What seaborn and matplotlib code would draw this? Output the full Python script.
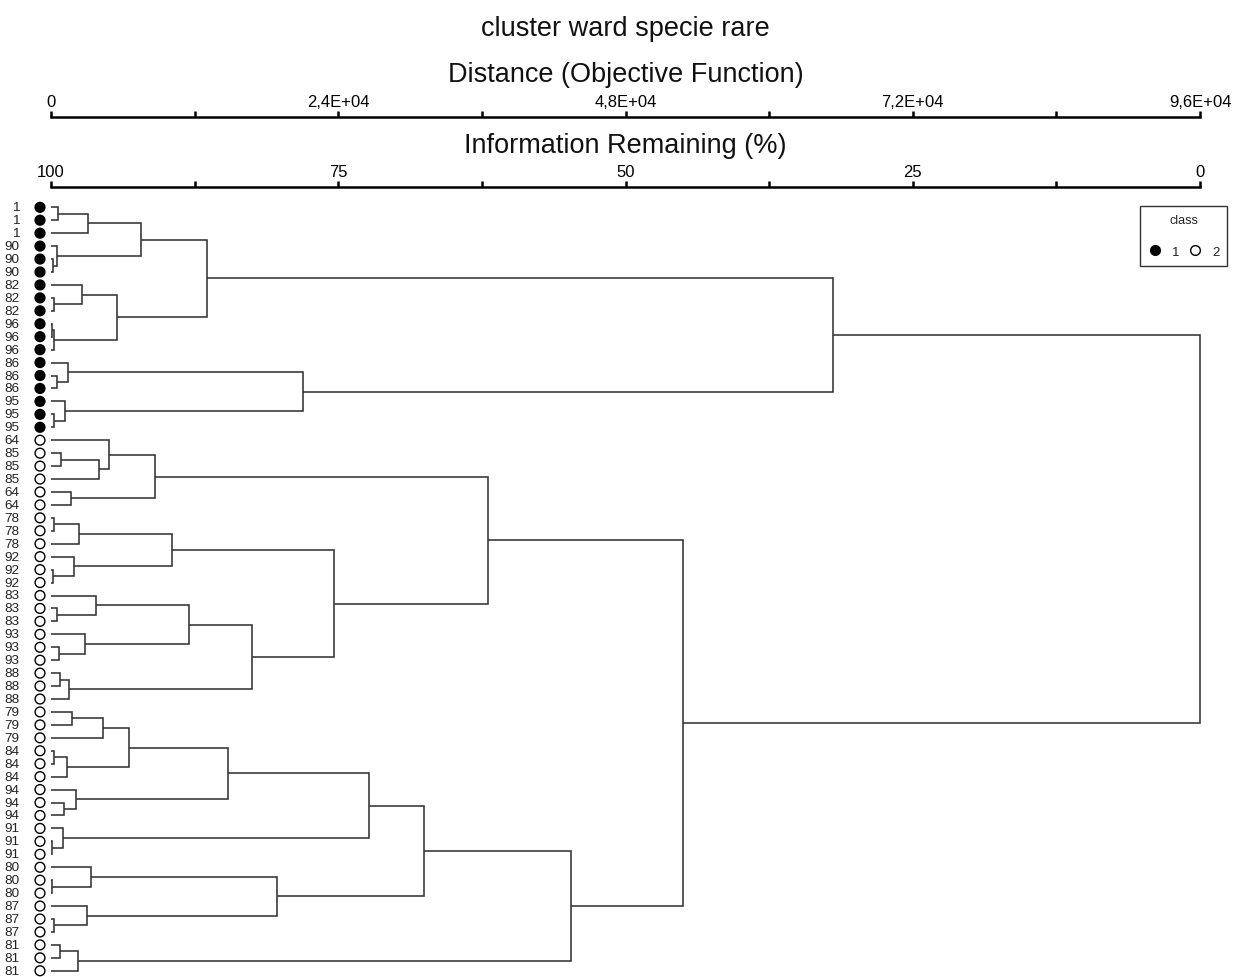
import numpy as np
import pandas as pd
import matplotlib
matplotlib.use("Agg")
import matplotlib.pyplot as plt
from matplotlib.lines import Line2D
import seaborn as sns

# ---------------- data ----------------
title = "cluster ward specie rare"
dist_title = "Distance (Objective Function)"
info_title = "Information Remaining (%)"

leaf_labels = ["1", "1", "1", "90", "90", "90", "82", "82", "82", "96", "96", "96",
               "86", "86", "86", "95", "95", "95",
               "64", "85", "85", "85", "64", "64", "78", "78", "78", "92", "92", "92",
               "83", "83", "83", "93", "93", "93", "88", "88", "88", "79", "79", "79",
               "84", "84", "84", "94", "94", "94", "91", "91", "91", "80", "80", "80",
               "87", "87", "87", "81", "81", "81"]
leaf_class = [1, 1, 1, 1, 1, 1, 1, 1, 1, 1, 1, 1, 1, 1, 1, 1, 1, 1,
              2, 2, 2, 2, 2, 2, 2, 2, 2, 2, 2, 2, 2, 2, 2, 2, 2, 2,
              2, 2, 2, 2, 2, 2, 2, 2, 2, 2, 2, 2, 2, 2, 2, 2, 2, 2,
              2, 2, 2, 2, 2, 2]

# merges: child a, child b (ids >= 60 refer to earlier merges), distance
merge_a = [0, 60, 4, 3, 61, 7, 6, 9, 67, 66, 64, 13, 12, 16, 15, 72, 70,
           19, 77, 18, 22, 79, 24, 82, 28, 27, 83, 31, 30, 34, 33, 88, 36, 92, 91, 86, 81,
           39, 97, 42, 99, 98, 46, 45, 101, 49, 48, 104, 52, 51, 55, 54, 109, 107, 57, 114, 113, 96, 76]
merge_b = [1, 2, 5, 62, 63, 8, 65, 10, 11, 68, 69, 14, 71, 17, 73, 74, 75,
           20, 21, 78, 23, 80, 25, 26, 29, 84, 85, 32, 87, 35, 89, 90, 37, 38, 93, 94, 95,
           40, 41, 43, 44, 100, 47, 102, 103, 50, 105, 106, 53, 108, 56, 110, 111, 112, 58, 59, 115, 116, 117]
merge_h = [585, 3120, 140, 474, 7494, 251, 2565, 110, 210, 5489, 13009, 474, 1448, 279, 1170, 21030, 65336,
           836, 4010, 4871, 1645, 8689, 251, 2367, 195, 1922, 10083, 529, 3732, 668, 2841, 11530, 752, 1504,
           16819, 23645, 36486,
           1727, 4317, 279, 1309, 6517, 1086, 2089, 14788, 110, 975, 26594, 110, 3342, 251, 3036, 18907,
           31164, 752, 2283, 43420, 52780, 96000]

dist_ticks = [0, 12000, 24000, 36000, 48000, 60000, 72000, 84000, 96000]
dist_ticklabels = ["0", "", "2,4E+04", "", "4,8E+04", "", "7,2E+04", "", "9,6E+04"]
info_ticks = [100, 87.5, 75, 62.5, 50, 37.5, 25, 12.5, 0]
info_ticklabels = ["100", "", "75", "", "50", "", "25", "", "0"]
class_names = [1, 2]

# ---------------- layout ----------------
W, H = 1233, 978
x0_px, x1_px = 51, 1200          # pixel span of 0 .. 96000
dmax = 96000
top_px = 195
leaf0_px, step_px = 208.3, 12.94

def px2d(px):
    return (px - x0_px) * dmax / (x1_px - x0_px)

sns.set_theme(style="white")
plt.rcParams["font.family"] = ["Liberation Sans", "DejaVu Sans"]

fig = plt.figure(figsize=(W / 100, H / 100), dpi=100)
fig.patch.set_facecolor("white")

ax = fig.add_axes([0, 0, 1, (H - top_px) / H])
ax.set_xlim(px2d(0), px2d(W))
ax.set_ylim((H - leaf0_px) / step_px, -(leaf0_px - top_px) / step_px)
ax.axis("off")

# dendrogram
n = len(leaf_labels)
pos = list(range(n))
hgt = [0.0] * n
line_kw = dict(color="#333333", lw=1.15, solid_capstyle="butt", solid_joinstyle="miter")
for a, b, h in zip(merge_a, merge_b, merge_h):
    ya, yb = pos[a], pos[b]
    ax.plot([hgt[a], h, h, hgt[b]], [ya, ya, yb, yb], **line_kw)
    pos.append((ya + yb) / 2)
    hgt.append(h)

# leaf markers and labels
df = pd.DataFrame({"label": leaf_labels, "cls": leaf_class, "pos": np.arange(n)})
df["mx"] = px2d(40)
sns.scatterplot(data=df, x="mx", y="pos", hue="cls", palette={1: "black", 2: "white"},
                edgecolor="black", linewidth=1.0, s=50, legend=False, ax=ax, zorder=3)
for _, r in df.iterrows():
    ax.text(px2d(19.5), r["pos"], r["label"], ha="right", va="center", fontsize=9.7, color="#222222")

# top scales
def scale_axis(y_px, lim, ticks, labels):
    hh = 0.001
    a2 = fig.add_axes([x0_px / W, 1 - y_px / H - hh, (x1_px - x0_px) / W, hh])
    a2.set_xlim(*lim)
    a2.set_facecolor("none")
    for s in ["left", "right", "bottom"]:
        a2.spines[s].set_visible(False)
    a2.spines["top"].set_visible(True)
    a2.spines["top"].set_linewidth(1.8)
    a2.spines["top"].set_color("black")
    a2.set_yticks([])
    a2.xaxis.tick_top()
    a2.set_xticks(ticks)
    a2.set_xticklabels(labels)
    a2.tick_params(axis="x", direction="out", length=4.3, width=1.8, labelsize=12, pad=1.3,
                   colors="black", top=True, bottom=False, labeltop=True, labelbottom=False)
    a2.grid(False)
    return a2

scale_axis(117.7, (0, dmax), dist_ticks, dist_ticklabels)
scale_axis(187.7, (100, 0), info_ticks, info_ticklabels)

cx = (x0_px + x1_px) / 2 / W
fig.text(cx, 1 - 29 / H, title, ha="center", va="center", fontsize=19.5, color="#111111")
fig.text(cx, 1 - 75 / H, dist_title, ha="center", va="center", fontsize=19.5, color="#111111")
fig.text(cx, 1 - 146 / H, info_title, ha="center", va="center", fontsize=19.5, color="#111111")

# legend
handles = [Line2D([], [], marker="o", ls="", markerfacecolor="black" if c == 1 else "white",
                  markeredgecolor="black", markeredgewidth=1.0, markersize=7, label=str(c))
           for c in class_names]
leg = fig.legend(handles=handles, title="class", ncol=2, loc="upper left",
                 bbox_to_anchor=(1140 / W, 1 - 207 / H), frameon=True, fontsize=9.5,
                 title_fontsize=9, handletextpad=0.8, columnspacing=0.7, handlelength=1.0,
                 borderpad=0.6, labelspacing=1.5, fancybox=False, edgecolor="black",
                 borderaxespad=0)
leg.get_frame().set_linewidth(1.0)
for t in leg.get_texts():
    t.set_color("#222222")
leg.get_title().set_color("#222222")

fig.savefig("out.png", dpi=100, facecolor="white")
